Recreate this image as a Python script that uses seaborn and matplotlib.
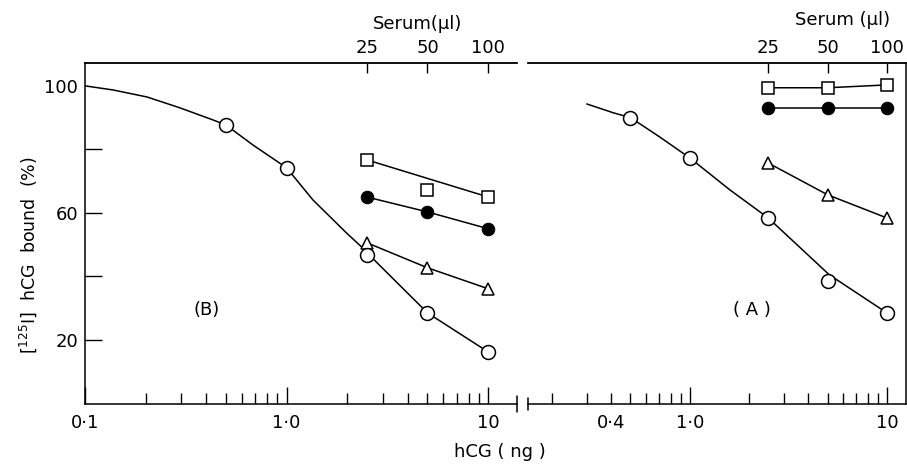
import matplotlib
matplotlib.use("Agg")
import matplotlib.pyplot as plt
import seaborn as sns
from matplotlib.lines import Line2D
from matplotlib.ticker import NullFormatter, NullLocator

# ---------------- data ----------------
serum_x = [2.5, 5, 10]             # hCG positions of serum volumes
serum_labels = ["25", "50", "100"]  # serum (µl)

# Panel B
curve_B_x = [0.1, 0.138, 0.203, 0.295, 0.43, 0.5, 0.68, 1.0, 1.35, 1.98, 2.38, 2.5, 5, 10]
curve_B_y = [100, 98.7, 96.5, 93.1, 89.3, 87.7, 81.4, 74.2, 64.1, 53.7, 49.0, 47.5, 28.5, 16.2]
std_B_x = [0.5, 1.0, 2.5, 5, 10]
std_B_y = [87.7, 74.2, 46.8, 28.5, 16.2]
sq_B = [76.7, 67.2, 65.0]
sq_B_fit_x = [2.5, 10]
sq_B_fit_y = [76.7, 65.0]
fill_B = [65.0, 60.3, 55.0]
tri_B = [50.6, 42.7, 36.1]

# Panel A
curve_A_x = [0.30, 0.41, 0.5, 0.70, 1.0, 1.6, 2.5, 5.1, 10]
curve_A_y = [94.3, 91.5, 90.0, 84.0, 77.3, 67.2, 58.4, 40.5, 28.5]
std_A_x = [0.5, 1.0, 2.5, 5, 10]
std_A_y = [90.0, 77.3, 58.4, 38.6, 28.5]
sq_A = [99.4, 99.4, 100.3]
fill_A = [93.0, 93.0, 93.0]
tri_A = [75.7, 65.7, 58.4]

# ---------------- figure ----------------
sns.set_style("ticks")
plt.rcParams["font.family"] = ["DejaVu Sans"]
plt.rcParams["mathtext.default"] = "regular"
plt.rcParams["text.color"] = "black"
plt.rcParams["xtick.color"] = "black"
plt.rcParams["ytick.color"] = "black"
plt.rcParams["axes.labelcolor"] = "black"

W, H = 907, 467
fig = plt.figure(figsize=(W / 100, H / 100), dpi=100)
bottom = 1 - 404 / H
height = (404 - 63) / H
axL = fig.add_axes([85 / W, bottom, (517 - 85) / W, height])
axR = fig.add_axes([528 / W, bottom, (906 - 528) / W, height])

lw = 1.1
open_kw = dict(markerfacecolor="white", markeredgecolor="black", markeredgewidth=1.1)


def panel(ax, cx, cy, sx, sy, sq, sq_fit, fill, tri):
    sns.lineplot(x=cx, y=cy, ax=ax, color="black", lw=lw, estimator=None, sort=False, zorder=2)
    sns.lineplot(x=sx, y=sy, ax=ax, color="black", lw=0, marker="o",
                 markersize=10, estimator=None, zorder=4, **open_kw)
    if sq_fit is None:
        sns.lineplot(x=serum_x, y=sq, ax=ax, color="black", lw=lw, marker="s",
                     markersize=8, estimator=None, zorder=3, **open_kw)
    else:
        sns.lineplot(x=sq_fit[0], y=sq_fit[1], ax=ax, color="black", lw=lw,
                     estimator=None, zorder=2)
        sns.lineplot(x=serum_x, y=sq, ax=ax, color="black", lw=0, marker="s",
                     markersize=8, estimator=None, zorder=3, **open_kw)
    sns.lineplot(x=serum_x, y=fill, ax=ax, color="black", lw=lw, marker="o",
                 markersize=9, markerfacecolor="black", markeredgecolor="black",
                 estimator=None, zorder=3)
    sns.lineplot(x=serum_x, y=tri, ax=ax, color="black", lw=lw, marker="^",
                 markersize=8, estimator=None, zorder=3, **open_kw)


panel(axL, curve_B_x, curve_B_y, std_B_x, std_B_y, sq_B, (sq_B_fit_x, sq_B_fit_y), fill_B, tri_B)
panel(axR, curve_A_x, curve_A_y, std_A_x, std_A_y, sq_A, None, fill_A, tri_A)

for ax in (axL, axR):
    ax.set_xscale("log")
    ax.set_ylim(-0.2, 107.2)
    ax.set_xlabel("")
    ax.set_ylabel("")
    for s in ax.spines.values():
        s.set_linewidth(1.1)
        s.set_color("black")

axL.set_xlim(0.1, 13.9)
axR.set_xlim(0.151, 12.5)

minor_ticks = [0.2, 0.3, 0.4, 0.5, 0.6, 0.7, 0.8, 0.9, 2, 3, 4, 5, 6, 7, 8, 9]
axL.set_xticks([0.1, 1, 10], labels=["0·1", "1·0", "10"])
axL.set_xticks(minor_ticks, minor=True)
axL.xaxis.set_minor_formatter(NullFormatter())

axR.set_xticks([1, 10], labels=["1·0", "10"])
axR.set_xticks(minor_ticks, labels=["" if m != 0.4 else "0·4" for m in minor_ticks], minor=True)

axL.set_yticks([20, 40, 60, 80, 100], labels=["20", "", "60", "", "100"])
axL.yaxis.get_major_ticks()[-1].tick1line.set_visible(False)

axL.spines["right"].set_visible(False)
axR.spines["left"].set_visible(False)
axR.tick_params(axis="y", left=False, right=False, labelleft=False)

for ax in (axL, axR):
    ax.tick_params(axis="x", which="major", direction="in", length=12, width=1.0,
                   pad=7, labelsize=13, top=False)
    ax.tick_params(axis="x", which="minor", direction="in", length=8, width=1.0,
                   pad=7, labelsize=13, top=False)
axL.tick_params(axis="y", direction="in", length=12, width=1.0, pad=5, labelsize=13, right=False)

for ax in (axL, axR):
    sec = ax.secondary_xaxis("top")
    sec.set_xticks(serum_x, labels=serum_labels)
    sec.xaxis.set_minor_locator(NullLocator())
    sec.tick_params(axis="x", direction="in", length=7, width=1.0, pad=4, labelsize=13)
    sec.spines["top"].set_linewidth(1.1)

axL.text(0.769, 1.115, "Serum(µl)", transform=axL.transAxes, ha="center", va="center", fontsize=13)
axR.text(0.831, 1.125, "Serum (µl)", transform=axR.transAxes, ha="center", va="center", fontsize=13)

axL.text(0.4, 29.5, "(B)", ha="center", va="center", fontsize=13)
axR.text(2.07, 29.5, "( A )", ha="center", va="center", fontsize=13)

fig.text(28 / W, 1 - 255 / H, r"[$^{125}$I]  hCG  bound  (%)", rotation=90,
         ha="center", va="center", fontsize=12.5)
fig.text(500 / W, 1 - 452 / H, "hCG ( ng )", ha="center", va="center", fontsize=13)

# axis break marks
for xb, y0, y1 in [(517, 396, 412), (528, 398, 410)]:
    fig.add_artist(Line2D([xb / W, xb / W], [1 - y0 / H, 1 - y1 / H], color="black", lw=1.1))

fig.savefig("out.png", dpi=100)
